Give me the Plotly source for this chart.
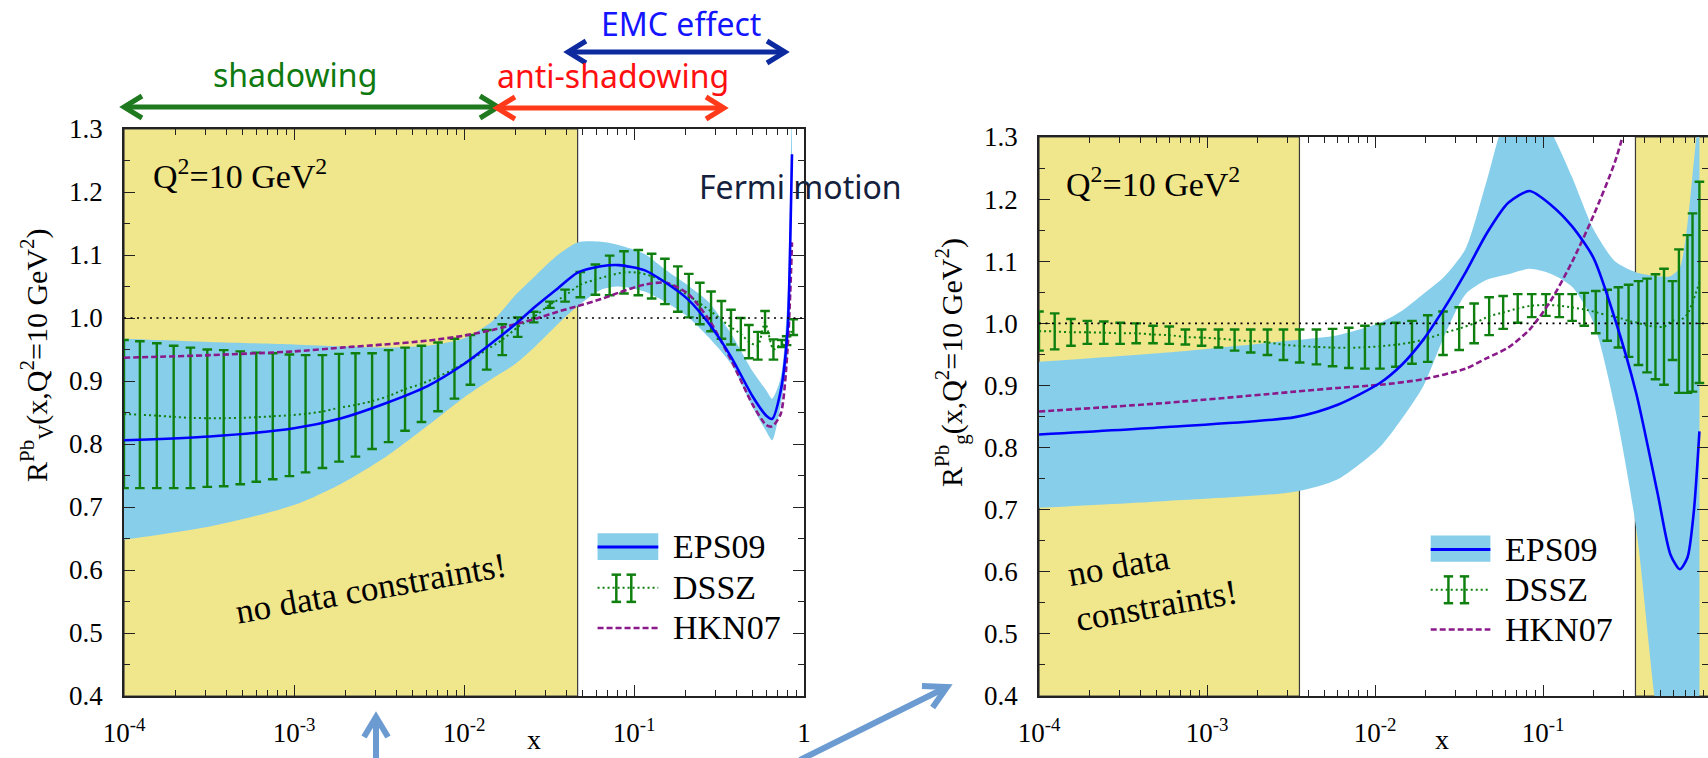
import plotly.graph_objects as go

W, H = 1708, 758

# ---------------- valence panel (left) ----------------
XV = [1e-4, 3.2e-4, 1e-3, 1.9e-3, 3.4e-3, 6.1e-3, 1e-2, 1.47e-2, 2.0e-2, 2.65e-2,
      3.56e-2, 4.66e-2, 6.4e-2, 8.1e-2, 0.115, 0.154, 0.207, 0.278, 0.373, 0.50,
      0.60, 0.65, 0.73, 0.80, 0.83, 0.85]
EPS_V_MID = [0.806, 0.812, 0.825, 0.841, 0.864, 0.892, 0.927, 0.961, 0.990, 1.019,
             1.047, 1.072, 1.082, 1.084, 1.076, 1.056, 1.030, 0.990, 0.938, 0.875,
             0.845, 0.840, 0.885, 0.98, 1.12, 1.26]
EPS_V_HI = [0.967, 0.962, 0.958, 0.955, 0.953, 0.956, 0.968, 0.995, 1.036, 1.068,
            1.100, 1.120, 1.121, 1.116, 1.102, 1.076, 1.052, 1.024, 0.975, 0.915,
            0.885, 0.872, 0.905, 1.03, 1.20, 1.36]
EPS_V_LO = [0.648, 0.669, 0.703, 0.737, 0.778, 0.829, 0.874, 0.904, 0.927, 0.956,
            0.990, 1.019, 1.045, 1.050, 1.042, 1.025, 1.002, 0.968, 0.927, 0.858,
            0.820, 0.806, 0.862, 0.94, 1.06, 1.20]
HKN_V = [0.937, 0.941, 0.947, 0.953, 0.958, 0.964, 0.972, 0.981, 0.990, 0.999,
         1.010, 1.019, 1.030, 1.040, 1.053, 1.056, 1.039, 0.996, 0.933, 0.862,
         0.830, 0.828, 0.848, 0.95, 1.04, 1.12]
DSSZ_V_X = [1.0e-4, 1.24e-4, 1.56e-4, 1.96e-4, 2.46e-4, 3.09e-4, 3.86e-4, 4.83e-4, 6.0e-4, 7.5e-4,
            9.4e-4, 1.17e-3, 1.47e-3, 1.84e-3, 2.30e-3, 2.88e-3, 3.60e-3, 4.50e-3, 5.62e-3, 7.03e-3,
            8.79e-3, 1.09e-2, 1.36e-2, 1.68e-2, 2.07e-2, 2.57e-2, 3.20e-2, 3.93e-2, 4.83e-2, 5.93e-2,
            7.19e-2, 8.73e-2, 0.106, 0.127, 0.152, 0.181, 0.210, 0.244, 0.284, 0.327,
            0.372, 0.425, 0.474, 0.535, 0.590, 0.661, 0.74, 0.79, 0.865]
DSSZ_V_HI = [0.965, 0.963, 0.960, 0.956, 0.953, 0.950, 0.949, 0.947, 0.945, 0.944,
             0.942, 0.941, 0.941, 0.943, 0.944, 0.944, 0.949, 0.953, 0.956, 0.961,
             0.967, 0.973, 0.981, 0.990, 1.001, 1.010, 1.026, 1.045, 1.073, 1.085,
             1.099, 1.106, 1.108, 1.102, 1.094, 1.082, 1.070, 1.056, 1.042, 1.027,
             1.013, 1.000, 0.989, 0.978, 1.011, 0.966, 0.965, 0.971, 0.998]
DSSZ_V_LO = [0.730, 0.730, 0.730, 0.730, 0.730, 0.732, 0.733, 0.736, 0.740, 0.744,
             0.749, 0.755, 0.762, 0.772, 0.780, 0.792, 0.803, 0.821, 0.835, 0.852,
             0.872, 0.894, 0.918, 0.941, 0.970, 0.993, 1.016, 1.026, 1.033, 1.037,
             1.036, 1.039, 1.036, 1.031, 1.022, 1.010, 1.001, 0.990, 0.979, 0.967,
             0.958, 0.949, 0.936, 0.934, 0.976, 0.934, 0.954, 0.957, 0.973]
NODATA_V = [(1e-4, 0.0466)]

# ---------------- gluon panel (right) ----------------
XG = [1e-4, 5.78e-4, 3.34e-3, 6.0e-3, 1.07e-2, 1.44e-2, 1.93e-2, 2.58e-2, 3.46e-2, 4.63e-2,
      6.21e-2, 8.32e-2, 0.111, 0.149, 0.200, 0.268, 0.359, 0.481, 0.573, 0.652,
      0.724, 0.79, 0.853]
EPS_G_MID = [0.821, 0.833, 0.849, 0.869, 0.904, 0.933, 0.973, 1.024, 1.082, 1.145,
             1.194, 1.213, 1.191, 1.156, 1.105, 1.007, 0.887, 0.726, 0.628, 0.604,
             0.623, 0.697, 0.826]
EPS_G_HI = [0.938, 0.953, 0.973, 0.981, 1.001, 1.020, 1.047, 1.075, 1.12, 1.23,
            1.34, 1.36, 1.31, 1.235, 1.151, 1.100, 1.082, 1.076, 1.076, 1.090,
            1.16, 1.26, 1.35]
EPS_G_LO = [0.703, 0.714, 0.729, 0.749, 0.801, 0.846, 0.898, 0.979, 1.047, 1.070,
            1.079, 1.088, 1.080, 1.059, 1.001, 0.864, 0.669, 0.36, 0.26, 0.22,
            0.25, 0.30, 0.35]
HKN_G_X = [1e-4, 5.78e-4, 3.34e-3, 6.0e-3, 1.07e-2, 1.93e-2, 3.46e-2, 4.63e-2, 6.21e-2, 8.32e-2,
           0.111, 0.149, 0.200, 0.268, 0.359]
HKN_G = [0.858, 0.872, 0.890, 0.896, 0.901, 0.910, 0.927, 0.944, 0.961, 0.990,
         1.036, 1.099, 1.174, 1.26, 1.38]
DSSZ_G_X = [1.0e-4, 1.24e-4, 1.55e-4, 1.94e-4, 2.43e-4, 3.04e-4, 3.79e-4, 4.77e-4, 5.96e-4, 7.43e-4,
            9.29e-4, 1.17e-3, 1.46e-3, 1.82e-3, 2.29e-3, 2.85e-3, 3.56e-3, 4.48e-3, 5.59e-3, 6.98e-3,
            8.71e-3, 1.07e-2, 1.33e-2, 1.66e-2, 2.06e-2, 2.54e-2, 3.17e-2, 3.89e-2, 4.78e-2, 5.79e-2,
            7.07e-2, 8.57e-2, 0.104, 0.125, 0.149, 0.176, 0.206, 0.241, 0.281, 0.323,
            0.370, 0.416, 0.467, 0.525, 0.590, 0.644, 0.724, 0.776, 0.853]
DSSZ_G_HI = [1.019, 1.016, 1.007, 1.004, 1.003, 1.001, 1.000, 0.996, 0.995, 0.990,
             0.990, 0.990, 0.990, 0.990, 0.990, 0.990, 0.990, 0.990, 0.991, 0.993,
             0.996, 0.999, 1.001, 1.004, 1.013, 1.019, 1.026, 1.032, 1.042, 1.044,
             1.047, 1.047, 1.047, 1.047, 1.047, 1.049, 1.052, 1.054, 1.058, 1.062,
             1.068, 1.072, 1.079, 1.088, 1.068, 1.119, 1.142, 1.177, 1.228]
DSSZ_G_LO = [0.956, 0.958, 0.964, 0.967, 0.967, 0.967, 0.968, 0.968, 0.967, 0.966,
             0.964, 0.961, 0.956, 0.953, 0.949, 0.941, 0.937, 0.934, 0.931, 0.928,
             0.927, 0.927, 0.930, 0.935, 0.938, 0.949, 0.957, 0.968, 0.981, 0.991,
             1.001, 1.010, 1.012, 1.010, 1.004, 0.996, 0.984, 0.972, 0.961, 0.946,
             0.933, 0.921, 0.910, 0.901, 0.941, 0.888, 0.888, 0.890, 0.904]
NODATA_G = [(1e-4, 0.00355), (0.355, 1.0)]

# ---------------- ticks ----------------
XTICKS = [1e-4, 1e-3, 1e-2, 1e-1, 1]
XTICKTEXT = ["10<sup>-4</sup>", "10<sup>-3</sup>", "10<sup>-2</sup>", "10<sup>-1</sup>", "1"]
XMINOR = [k * 10.0 ** e for e in (-4, -3, -2, -1) for k in range(2, 10)]
YTICKS = [0.4, 0.5, 0.6, 0.7, 0.8, 0.9, 1.0, 1.1, 1.2, 1.3]
YMINOR = [0.45, 0.55, 0.65, 0.75, 0.85, 0.95, 1.05, 1.15, 1.25]

SERIF = "Liberation Serif, DejaVu Serif, serif"
HAND = "Noto Sans, Open Sans, sans-serif"
KHAKI = "#f0e68c"
SKY = "#87ceeb"
BLUE = "#0000ff"
GREEN = "#0f800f"
PURPLE = "#8a1a8a"

fig = go.Figure()


def add_panel(xa, ya, nodata, xb, mid, hi, lo, xh, hkn, xd, dlo, dhi):
    kw = dict(xaxis=xa, yaxis=ya, showlegend=False, hoverinfo="skip")
    for a, b in nodata:
        fig.add_trace(go.Scatter(x=[a, b, b, a, a], y=[0.4, 0.4, 1.3, 1.3, 0.4],
                                 mode="lines", fill="toself", fillcolor=KHAKI,
                                 line=dict(color="#3a3a3a", width=1.2), **kw))
    fig.add_trace(go.Scatter(x=xb, y=lo, mode="lines",
                             line=dict(width=0, shape="spline", smoothing=0.7), **kw))
    fig.add_trace(go.Scatter(x=xb, y=hi, mode="lines", fill="tonexty", fillcolor=SKY,
                             line=dict(width=0, shape="spline", smoothing=0.7), **kw))
    dmid = [(a + b) / 2 for a, b in zip(dlo, dhi)]
    fig.add_trace(go.Scatter(x=xd, y=dmid, mode="lines",
                             line=dict(color=GREEN, width=2, dash="2px,3px",
                                       shape="spline", smoothing=0.6),
                             error_y=dict(type="data", symmetric=False,
                                          array=[b - m for b, m in zip(dhi, dmid)],
                                          arrayminus=[m - a for a, m in zip(dlo, dmid)],
                                          color=GREEN, thickness=2.4, width=4.8),
                             **kw))
    fig.add_trace(go.Scatter(x=xh, y=hkn, mode="lines",
                             line=dict(color=PURPLE, width=2.6, dash="6px,3px",
                                       shape="spline", smoothing=0.7), **kw))
    fig.add_trace(go.Scatter(x=xb, y=mid, mode="lines",
                             line=dict(color=BLUE, width=2.6, shape="spline", smoothing=0.7), **kw))


add_panel("x", "y", NODATA_V, XV, EPS_V_MID, EPS_V_HI, EPS_V_LO, XV, HKN_V,
          DSSZ_V_X, DSSZ_V_LO, DSSZ_V_HI)
add_panel("x2", "y2", NODATA_G, XG, EPS_G_MID, EPS_G_HI, EPS_G_LO, HKN_G_X, HKN_G,
          DSSZ_G_X, DSSZ_G_LO, DSSZ_G_HI)


def xaxis(domain, rng):
    return dict(domain=domain, type="log", range=rng, showline=True, linecolor="#222",
                linewidth=1.5, mirror="ticks", ticks="inside", ticklen=11, tickwidth=1.2,
                tickcolor="#222", tickmode="array", tickvals=XTICKS, ticktext=XTICKTEXT,
                tickfont=dict(family=SERIF, size=27, color="black"),
                ticklabelstandoff=12, automargin=False,
                minor=dict(tickmode="array", tickvals=XMINOR, ticks="inside", ticklen=6,
                           tickwidth=1, tickcolor="#222", showgrid=False),
                showgrid=False, zeroline=False)


def yaxis(domain, anchor):
    return dict(domain=domain, anchor=anchor, range=[0.4, 1.3], showline=True,
                linecolor="#222", linewidth=1.5, mirror="ticks", ticks="inside",
                ticklen=11, tickwidth=1.2, tickcolor="#222", tickmode="array",
                tickvals=YTICKS, ticktext=["%.1f" % v for v in YTICKS],
                tickfont=dict(family=SERIF, size=27, color="black"),
                ticklabelstandoff=14, automargin=False,
                minor=dict(tickmode="array", tickvals=YMINOR, ticks="inside", ticklen=6,
                           tickwidth=1, tickcolor="#222", showgrid=False),
                showgrid=False, zeroline=False)


XDOM1 = [124 / W, 804 / W]
XDOM2 = [1039 / W, 1.0]
YDOM1 = [62 / H, 629 / H]
YDOM2 = [62 / H, 621 / H]

layout = dict(
    width=W, height=H, margin=dict(l=0, r=0, t=0, b=0, pad=0, autoexpand=False),
    autosize=False,
    paper_bgcolor="white", plot_bgcolor="white", showlegend=False,
    xaxis=dict(xaxis(XDOM1, [-4, 0]), anchor="y"),
    yaxis=yaxis(YDOM1, "x"),
    xaxis2=dict(xaxis(XDOM2, [-4, -0.018]), anchor="y2"),
    yaxis2=yaxis(YDOM2, "x2"),
)
fig.update_layout(**layout)

shapes = []
annotations = []

# dotted unity line
for xr, yr in (("x domain", "y"), ("x2 domain", "y2")):
    shapes.append(dict(type="line", xref=xr, yref=yr, x0=0, x1=1, y0=1.0, y1=1.0,
                       line=dict(color="black", width=1.6, dash="2px,4.5px"), layer="above"))


def txt(xr, yr, x, y, text, size, color="black", family=SERIF, xanchor="center", **extra):
    d = dict(xref=xr, yref=yr, x=x, y=y, text=text, showarrow=False,
             xanchor=xanchor, yanchor="middle",
             font=dict(family=family, size=size, color=color))
    d.update(extra)
    annotations.append(d)


# hand-made legends (positions in axis-domain units)
def legend(xr, yr, x0, x1, bx, tx, rows):
    shapes.append(dict(type="rect", xref=xr, yref=yr, x0=x0, x1=x1, y0=0.240, y1=0.287,
                       fillcolor=SKY, line=dict(width=0), layer="above"))
    shapes.append(dict(type="line", xref=xr, yref=yr, x0=x0, x1=x1, y0=rows[0], y1=rows[0],
                       line=dict(color=BLUE, width=3), layer="above"))
    shapes.append(dict(type="line", xref=xr, yref=yr, x0=x0, x1=x1, y0=rows[1], y1=rows[1],
                       line=dict(color=GREEN, width=2, dash="2px,3px"), layer="above"))
    for b in bx:
        shapes.append(dict(type="line", xref=xr, yref=yr, x0=b, x1=b, y0=0.166, y1=0.214,
                           line=dict(color=GREEN, width=2.5), layer="above"))
        for yy in (0.166, 0.214):
            shapes.append(dict(type="line", xref=xr, yref=yr, x0=b - 0.007, x1=b + 0.007,
                               y0=yy, y1=yy, line=dict(color=GREEN, width=2.5), layer="above"))
    shapes.append(dict(type="line", xref=xr, yref=yr, x0=x0, x1=x1, y0=rows[2], y1=rows[2],
                       line=dict(color=PURPLE, width=2.6, dash="6px,3px"), layer="above"))
    for name, ry in zip(("EPS09", "DSSZ", "HKN07"), rows):
        txt(xr, yr, tx, ry, name, 34, xanchor="left")


legend("x domain", "y domain", 0.6964, 0.7857, (0.724, 0.746), 0.805, (0.263, 0.191, 0.120))
legend("x2 domain", "y2 domain", 0.5855, 0.6747, (0.612, 0.636), 0.694, (0.262, 0.190, 0.119))

# in-panel texts
Q2 = "Q<sup>2</sup>=10 GeV<sup>2</sup>"
txt("x domain", "y domain", 0.040, 0.92, Q2, 34, xanchor="left")
txt("x2 domain", "y2 domain", 0.038, 0.92, Q2, 34, xanchor="left")
txt("x domain", "y domain", 0.3635, 0.19, "no data constraints!", 35, textangle=-10)
txt("x2 domain", "y2 domain", 0.170, 0.2015, "no data<br>constraints!", 35,
    textangle=-10, align="left")


def P(xp, yp):
    return xp / W, 1 - yp / H


def ptxt(xp, yp, text, size, color="black", family=SERIF, **extra):
    x, y = P(xp, yp)
    txt("paper", "paper", x, y, text, size, color=color, family=family, **extra)


# axis titles
ptxt(36, 355, "R<sup>Pb</sup><sub>V</sub>(x,Q<sup>2</sup>=10 GeV<sup>2</sup>)", 30, textangle=-90)
ptxt(952, 362, "R<sup>Pb</sup><sub>g</sub>(x,Q<sup>2</sup>=10 GeV<sup>2</sup>)", 30, textangle=-90)
ptxt(534, 739, "x", 28)
ptxt(1442, 739, "x", 28)

# slide annotations
ptxt(295, 74, "shadowing", 32, color="#0f7a0f", family=HAND)
ptxt(613, 75, "anti-shadowing", 32, color="#ff1010", family=HAND)
ptxt(681, 23, "EMC effect", 32, color="#1414ff", family=HAND)
ptxt(800, 186, "Fermi motion", 32, color="#14213d", family=HAND)


def arrow(x0, y0, x1, y1, color, width, both=True, L=18, Wd=11):
    dx, dy = x1 - x0, y1 - y0
    n = (dx * dx + dy * dy) ** 0.5
    ux, uy = dx / n, dy / n
    nx, ny = -uy, ux
    shapes.append(dict(type="line", xref="paper", yref="paper",
                       x0=P(x0, y0)[0], y0=P(x0, y0)[1], x1=P(x1, y1)[0], y1=P(x1, y1)[1],
                       line=dict(color=color, width=width), layer="above"))
    tips = [(x1, y1, ux, uy)]
    if both:
        tips.append((x0, y0, -ux, -uy))
    for tx, ty, vx, vy in tips:
        a = P(tx - L * vx + Wd * nx, ty - L * vy + Wd * ny)
        b = P(tx, ty)
        c = P(tx - L * vx - Wd * nx, ty - L * vy - Wd * ny)
        shapes.append(dict(type="path", xref="paper", yref="paper",
                           path="M%.5f,%.5f L%.5f,%.5f L%.5f,%.5f" % (a + b + c),
                           line=dict(color=color, width=width), layer="above"))


arrow(124, 107, 498, 107, "#1f7a1f", 5)
arrow(497, 108, 724, 108, "#ff3a1a", 5)
arrow(568, 52, 785, 52, "#0d2a9e", 5)
arrow(376, 760, 376, 717, "#6b9bd1", 6, both=False, L=20, Wd=12)
arrow(800, 760, 947, 687, "#6b9bd1", 6, both=False, L=22, Wd=12)

fig.update_layout(shapes=shapes, annotations=annotations)
fig.write_html(
    "out.html",
    config={"displayModeBar": False},
    post_script="document.body.style.margin='0';document.body.style.overflow='hidden';",
)
